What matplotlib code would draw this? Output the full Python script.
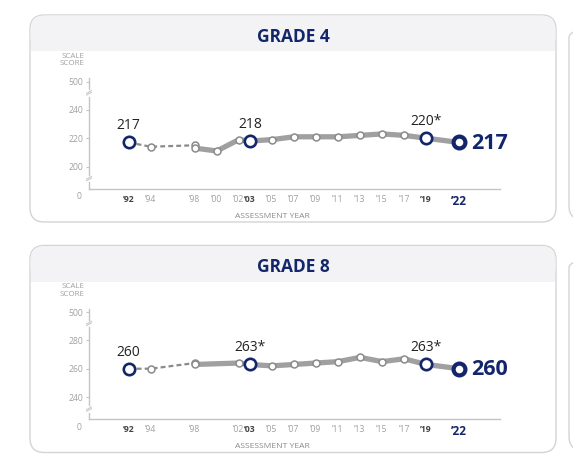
import matplotlib
matplotlib.use("Agg")
import matplotlib.pyplot as plt
from matplotlib.patches import FancyBboxPatch, Rectangle
import matplotlib.transforms as mtransforms

plt.rcParams['font.family'] = ['Open Sans', 'DejaVu Sans']

# ---- data ----
g4_years = [1992, 1994, 1998, 2000, 2002, 2003, 2005, 2007, 2009, 2011, 2013, 2015, 2017, 2019, 2022]
g4_dash_years = [1992, 1994, 1998]
g4_dash_vals = [217, 214, 215]
g4_solid_years = [1998, 2000, 2002, 2003, 2005, 2007, 2009, 2011, 2013, 2015, 2017, 2019, 2022]
g4_solid_vals = [213, 211, 219, 218, 219, 221, 221, 221, 222, 223, 222, 220, 217]
g4_labels = {1992: '217', 2003: '218', 2019: '220*'}
g4_last = '217'
g4_yticks = [200, 220, 240]

g8_years = [1992, 1994, 1998, 2002, 2003, 2005, 2007, 2009, 2011, 2013, 2015, 2017, 2019, 2022]
g8_dash_years = [1992, 1994, 1998]
g8_dash_vals = [260, 260, 264]
g8_solid_years = [1998, 2002, 2003, 2005, 2007, 2009, 2011, 2013, 2015, 2017, 2019, 2022]
g8_solid_vals = [263, 264, 263, 262, 263, 264, 265, 268, 265, 267, 263, 260]
g8_labels = {1992: '260', 2003: '263*', 2019: '263*'}
g8_last = '260'
g8_yticks = [240, 260, 280]

bold_years = [1992, 2003, 2019]

NAVY = '#13266b'
GRAY_LINE = '#a0a0a0'
GRAY_MK = '#8a8a8a'
TXT_GRAY = '#a0a0a0'

W, H = 573, 468
fig = plt.figure(figsize=(W / 100, H / 100), dpi=100)


def fx(x):
    return x / W


def fy(y):
    return 1 - y / H


def panel(top, title, years, dash_y, dash_v, solid_y, solid_v, labels, last, yticks):
    bottom = top + 207
    # outer rounded box
    box = FancyBboxPatch((fx(30), fy(bottom)), fx(556) - fx(30), fy(top) - fy(bottom),
                         boxstyle="round,pad=0,rounding_size=0.025",
                         transform=fig.transFigure, facecolor='white',
                         edgecolor='#d4d4d4', linewidth=1.0, mutation_aspect=W / H, zorder=-3)
    fig.patches.append(box)
    # header band
    hdr = FancyBboxPatch((fx(30.5), fy(top + 36)), fx(555.5) - fx(30.5), fy(top + 0.5) - fy(top + 36),
                         boxstyle="round,pad=0,rounding_size=0.024",
                         transform=fig.transFigure, facecolor='#f3f3f5',
                         edgecolor='none', mutation_aspect=W / H, zorder=-2)
    fig.patches.append(hdr)
    fig.patches.append(Rectangle((fx(30.6), fy(top + 36)), fx(555.4) - fx(30.6), fy(top + 20) - fy(top + 36),
                                 transform=fig.transFigure, facecolor='#f3f3f5', edgecolor='none', zorder=-2))
    fig.text(fx(293), fy(top + 22), title, color=NAVY, fontsize=12.5, fontweight='bold',
             ha='center', va='center')
    # neighbouring panel edge on the right
    fig.patches.append(FancyBboxPatch((fx(569), fy(bottom - 2)), 0.2, fy(top + 8) - fy(bottom - 2),
                                      boxstyle="round,pad=0,rounding_size=0.025",
                                      transform=fig.transFigure, facecolor='none',
                                      edgecolor='#d4d4d4', linewidth=1.0, mutation_aspect=W / H, zorder=-3))

    ax_top, ax_bot = top + 63, top + 173.5
    ax = fig.add_axes([fx(89), fy(ax_bot), fx(500) - fx(89), fy(ax_top) - fy(ax_bot)])
    ax.set_zorder(2)
    ax.patch.set_visible(False)
    ymin, ymax = yticks[0] - 15.5, yticks[-1] + 22.5
    ax.set_xlim(1988.4, 2025.7)
    ax.set_ylim(ymin, ymax)
    for s in ['top', 'right']:
        ax.spines[s].set_visible(False)
    for s in ['left', 'bottom']:
        ax.spines[s].set_color('#c4c4c4')
        ax.spines[s].set_linewidth(1.0)

    ax.set_yticks(yticks + [yticks[-1] + 20])
    ax.set_yticklabels([str(v) for v in yticks] + ['500'])
    ax.tick_params(axis='y', length=2.5, width=0.8, color='#c4c4c4', pad=1.5,
                   labelsize=6.2, labelcolor=TXT_GRAY)
    ax.set_xticks(years)
    xl = []
    for y in years:
        xl.append('’' + str(y)[2:])
    ax.set_xticklabels(xl)
    ax.tick_params(axis='x', length=0, pad=4.5, labelsize=6.2, labelcolor=TXT_GRAY)
    for t, y in zip(ax.get_xticklabels(), years):
        if y in bold_years:
            t.set_fontweight('bold')
            t.set_color('#444444')
        if y == 2022:
            t.set_fontweight('bold')
            t.set_color(NAVY)
            t.set_fontsize(8.5)

    trans = mtransforms.blended_transform_factory(ax.transAxes, ax.transData)
    ax.text(-0.018, ymin - 2.5, '0', transform=trans, ha='right', va='top',
            fontsize=6.2, color=TXT_GRAY)
    # axis breaks
    for yb in [yticks[-1] + 12, yticks[0] - 8.5]:
        ax.plot([0, 0], [yb - 1.3, yb + 1.3], transform=trans, color='white', lw=2, clip_on=False, zorder=5)
        ax.plot([-0.006, 0.006], [yb - 1.6, yb + 0.4], transform=trans, color='#c4c4c4', lw=0.7,
                clip_on=False, zorder=6)
        ax.plot([-0.006, 0.006], [yb - 0.4, yb + 1.6], transform=trans, color='#c4c4c4', lw=0.7,
                clip_on=False, zorder=6)

    fig.text(fx(84), fy(top + 45), 'SCALE\nSCORE', ha='right', va='center', fontsize=5.8,
             color=TXT_GRAY, linespacing=1.15)
    fig.text(fx(272), fy(top + 201), 'ASSESSMENT YEAR', ha='center', va='center', fontsize=6.1,
             color='#8a8a8a')

    ax.plot(dash_y, dash_v, color=GRAY_MK, lw=1.6, ls=(0, (2.2, 1.4)), zorder=2)
    ax.plot(solid_y, solid_v, color=GRAY_LINE, lw=3.8, solid_capstyle='round', zorder=2)
    small_x = [y for y in dash_y if y not in labels] + [y for y in solid_y if y not in labels and y != 2022]
    small_v = [v for y, v in zip(dash_y, dash_v) if y not in labels] + \
              [v for y, v in zip(solid_y, solid_v) if y not in labels and y != 2022]
    ax.plot(small_x, small_v, ls='none', marker='o', ms=5, mfc='white', mec=GRAY_MK, mew=1.1, zorder=3)

    allv = dict(zip(dash_y, dash_v))
    allv.update({y: v for y, v in zip(solid_y, solid_v) if y != 1998})
    for y, lab in labels.items():
        ax.plot([y], [allv[y]], marker='o', ms=8.2, mfc='white', mec=NAVY, mew=1.9, zorder=4)
        ax.annotate(lab, (y, allv[y]), xytext=(0, 6.5), textcoords='offset points',
                    ha='center', va='bottom', fontsize=10, color='#222222')
    ax.plot([2022], [allv[2022]], marker='o', ms=8.5, mfc='white', mec=NAVY, mew=3.0, zorder=4)
    ax.annotate(last, (2022, allv[2022]), xytext=(8.5, -0.5), textcoords='offset points',
                ha='left', va='center', fontsize=15.5, fontweight='bold', color=NAVY)
    return ax


panel(15, 'GRADE 4', g4_years, g4_dash_years, g4_dash_vals, g4_solid_years, g4_solid_vals,
      g4_labels, g4_last, g4_yticks)
panel(245.5, 'GRADE 8', g8_years, g8_dash_years, g8_dash_vals, g8_solid_years, g8_solid_vals,
      g8_labels, g8_last, g8_yticks)

fig.savefig('out.png', dpi=100)
